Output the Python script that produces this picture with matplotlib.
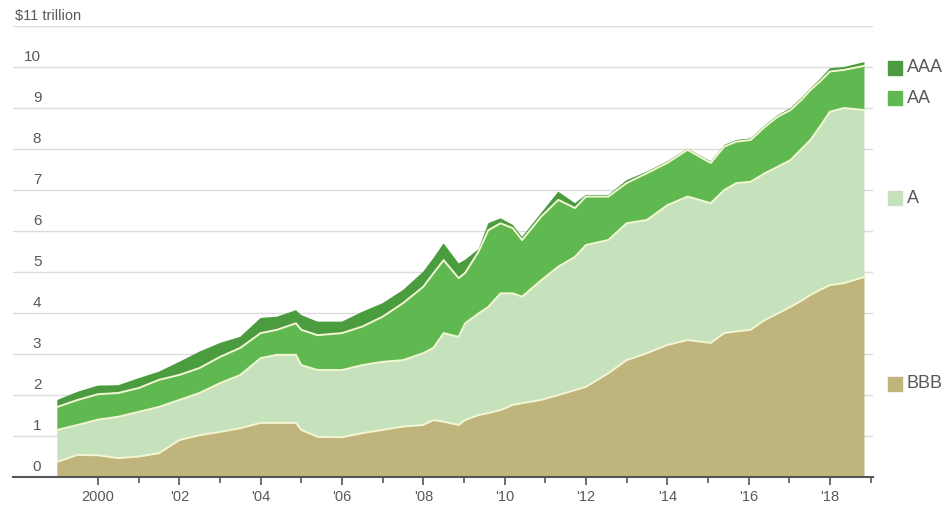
import numpy as np
import matplotlib
matplotlib.use("Agg")
import matplotlib.pyplot as plt
import matplotlib.transforms as mtransforms

plt.rcParams['font.family'] = ['Liberation Sans Narrow', 'Liberation Sans', 'DejaVu Sans']

# time in fractional years
years = [1999.0, 1999.5, 2000.0, 2000.5, 2001.0, 2001.5, 2002.0, 2002.5, 2003.0, 2003.5,
         2004.0, 2004.4, 2004.87, 2005.0, 2005.4, 2006.0, 2006.5, 2007.0, 2007.5, 2008.0,
         2008.25, 2008.5, 2008.87, 2009.03, 2009.36, 2009.6, 2009.9, 2010.2, 2010.43, 2010.9,
         2011.32, 2011.73, 2012.0, 2012.55, 2013.0, 2013.5, 2014.0, 2014.5, 2015.07, 2015.4,
         2015.7, 2016.05, 2016.4, 2016.72, 2017.03, 2017.3, 2017.52, 2017.75, 2018.0, 2018.35,
         2018.85]

# outstanding debt by rating, $ trillion
bbb = [0.37, 0.54, 0.53, 0.46, 0.50, 0.58, 0.90, 1.02, 1.10, 1.19,
       1.32, 1.32, 1.32, 1.15, 0.98, 0.97, 1.07, 1.15, 1.23, 1.27,
       1.39, 1.35, 1.27, 1.39, 1.51, 1.56, 1.63, 1.76, 1.80, 1.88,
       2.00, 2.12, 2.20, 2.53, 2.85, 3.02, 3.22, 3.34, 3.27, 3.51,
       3.55, 3.59, 3.83, 3.99, 4.15, 4.30, 4.44, 4.56, 4.68, 4.73,
       4.88]
a = [0.78, 0.73, 0.87, 1.01, 1.09, 1.13, 0.98, 1.03, 1.19, 1.30,
     1.58, 1.66, 1.66, 1.58, 1.63, 1.64, 1.66, 1.66, 1.62, 1.75,
     1.76, 2.16, 2.15, 2.36, 2.48, 2.59, 2.85, 2.72, 2.60, 2.92,
     3.13, 3.25, 3.46, 3.25, 3.34, 3.25, 3.41, 3.50, 3.41, 3.49,
     3.62, 3.61, 3.58, 3.58, 3.58, 3.70, 3.78, 3.98, 4.23, 4.27,
     4.07]
aa = [0.56, 0.61, 0.62, 0.58, 0.58, 0.66, 0.61, 0.61, 0.64, 0.66,
      0.61, 0.61, 0.77, 0.86, 0.85, 0.90, 0.94, 1.10, 1.39, 1.62,
      1.82, 1.78, 1.43, 1.23, 1.51, 1.87, 1.71, 1.59, 1.38, 1.55,
      1.63, 1.19, 1.18, 1.06, 0.98, 1.14, 1.03, 1.14, 0.98, 1.06,
      1.01, 1.02, 1.13, 1.22, 1.22, 1.20, 1.22, 1.10, 0.98, 0.93,
      1.08]
aaa = [0.17, 0.20, 0.21, 0.19, 0.24, 0.20, 0.32, 0.40, 0.34, 0.27,
       0.37, 0.32, 0.32, 0.36, 0.33, 0.28, 0.36, 0.33, 0.32, 0.37,
       0.37, 0.41, 0.36, 0.32, 0.06, 0.17, 0.12, 0.08, 0.08, 0.09,
       0.20, 0.12, 0.04, 0.04, 0.07, 0.04, 0.04, 0.03, 0.04, 0.04,
       0.04, 0.04, 0.04, 0.04, 0.05, 0.05, 0.04, 0.06, 0.08, 0.07,
       0.09]

ratings = ['BBB', 'A', 'AA', 'AAA']
colors = ['#bfb47b', '#c6e2bd', '#60b850', '#4a9c3e']
legend_y = [2.27, 6.8, 9.24, 9.98]   # label positions on right

ytick_vals = [0, 1, 2, 3, 4, 5, 6, 7, 8, 9, 10]
xtick_major = [2000, 2002, 2004, 2006, 2008, 2010, 2012, 2014, 2016, 2018]
xtick_labels = ['2000', "'02", "'04", "'06", "'08", "'10", "'12", "'14", "'16", "'18"]

txt = '#595959'

fig = plt.figure(figsize=(9.48, 5.05), dpi=100)
ax = fig.add_axes([0.0137, 0.0554, 0.9072, 0.8931])

# gridlines
for v in ytick_vals[1:] + [11]:
    ax.axhline(v, color='#dcdcdc', lw=1, zorder=0)

ax.stackplot(years, bbb, a, aa, aaa, colors=colors, lw=0, zorder=2)

# pale seams between layers
tops = np.cumsum([bbb, a, aa], axis=0)
for t in tops:
    ax.plot(years, t, color='#f3f6d2', lw=1.4, zorder=3)

ax.set_xlim(1997.91, 2019.06)
ax.set_ylim(0, 11)

for s in ['top', 'right', 'left']:
    ax.spines[s].set_visible(False)
ax.spines['bottom'].set_color('#555555')
ax.spines['bottom'].set_linewidth(1.5)
ax.spines['bottom'].set_zorder(5)

ax.set_yticks([])
ax.set_xticks(xtick_major)
ax.set_xticklabels(xtick_labels)
ax.set_xticks([y + 1 for y in xtick_major], minor=True)
ax.tick_params(axis='x', which='major', length=6, width=1.2, color='#555555',
               labelsize=10.5, labelcolor=txt, pad=3)
ax.tick_params(axis='x', which='minor', length=4, width=1.2, color='#555555')

# y labels sit above the gridlines
trans = mtransforms.blended_transform_factory(ax.transAxes, ax.transData)
off = mtransforms.offset_copy(trans, fig=fig, x=0, y=3, units='dots')
for v in ytick_vals:
    ax.text(0.033, v, str(v), transform=off, ha='right', va='bottom',
            fontsize=11, color=txt)
ax.text(0.002, 11, '$11 trillion', transform=off, ha='left', va='bottom',
        fontsize=10.5, color=txt)

# legend on right
for name, col, ly in zip(ratings, colors, legend_y):
    ax.plot([1.0256], [ly], marker='s', ms=10.5, color=col, transform=trans,
            clip_on=False, lw=0)
    ax.text(1.0395, ly, name, transform=trans, ha='left', va='center',
            fontsize=13, color=txt)

fig.savefig('out.png', dpi=100)
